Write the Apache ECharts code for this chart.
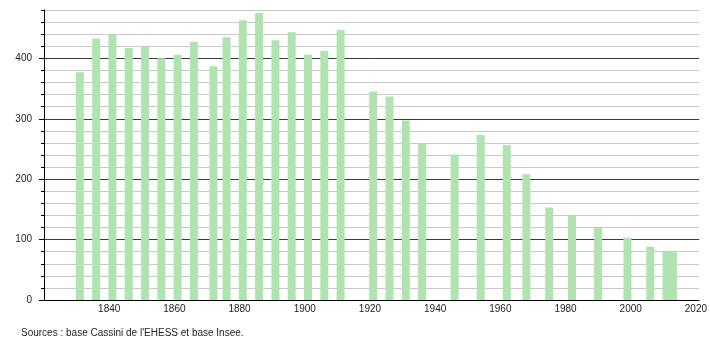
<!DOCTYPE html>
<html>
<head>
<meta charset="utf-8">
<script src="https://cdn.jsdelivr.net/npm/echarts@6/dist/echarts.min.js"></script>
<style>
    html, body {margin: 0; padding: 0; background: #fff;}
    #chart {width: 710px; height: 340px;}
</style>
</head>
<body>
<div id="chart"></div>
<script>
// recensements (année, habitants)
const years = [1831, 1836, 1841, 1846, 1851, 1856, 1861, 1866, 1872, 1876,
    1881, 1886, 1891, 1896, 1901, 1906, 1911, 1921, 1926, 1931,
    1936, 1946, 1954, 1962, 1968, 1975, 1982, 1990, 1999, 2006,
    2011, 2013];
const population = [377, 433, 440, 417, 420, 400, 406, 427, 387, 435,
    463, 475, 430, 443, 406, 412, 447, 345, 337, 297,
    260, 241, 273, 256, 208, 153, 140, 119, 103, 88,
    80, 79];
const majorTicks = [0, 100, 200, 300, 400];
const sourceText = "Sources : base Cassini de l'EHESS et base Insee.";

const font = 'Liberation Sans';
const chart = echarts.init(document.getElementById('chart'));

chart.setOption({
    animation: false,
    title: {
        text: sourceText,
        left: 16,
        top: 323,
        textStyle: {color: '#222', fontSize: 10, fontWeight: 'normal', fontFamily: font},
    },
    grid: {left: 44, right: 10, top: 10, bottom: 40},
    xAxis: {
        type: 'value',
        min: 1820,
        max: 2021,
        interval: 20,
        axisLine: {lineStyle: {color: '#000', width: 1}},
        axisTick: {show: false},
        splitLine: {show: false},
        axisLabel: {
            color: '#222',
            fontSize: 10,
            fontFamily: font,
            margin: 4,
            formatter: (v) => (v % 20 === 0 && v > 1820 ? `${v}` : ''),
        },
    },
    yAxis: [
        {
            // graduations fines (tous les 20)
            type: 'value',
            position: 'left',
            min: 0,
            max: 480,
            interval: 20,
            axisLine: {show: true, lineStyle: {color: '#000'}},
            axisTick: {show: true, length: 3, lineStyle: {color: '#000'}},
            axisLabel: {show: false},
            splitLine: {lineStyle: {color: '#c8c8c8', width: 1}},
        },
        {
            // graduations principales (tous les 100)
            type: 'value',
            position: 'left',
            offset: 0,
            min: 0,
            max: 480,
            interval: 100,
            axisLine: {show: false},
            axisTick: {show: true, length: 5, customValues: majorTicks, lineStyle: {color: '#000'}},
            axisLabel: {
                color: '#222',
                fontSize: 10,
                fontFamily: font,
                margin: 12,
                customValues: majorTicks,
                formatter: (v) => (v % 100 === 0 && v <= 400 ? `${v}` : ''),
            },
            splitLine: {lineStyle: {color: '#3a3a3a', width: 1}},
        },
    ],
    series: [
        {
            type: 'bar',
            yAxisIndex: 0,
            barWidth: 8,
            itemStyle: {color: '#b0e3b0'},
            data: years.map((y, i) => [y, population[i]]),
            z: 3,
        },
    ],
});
</script>
</body>
</html>
